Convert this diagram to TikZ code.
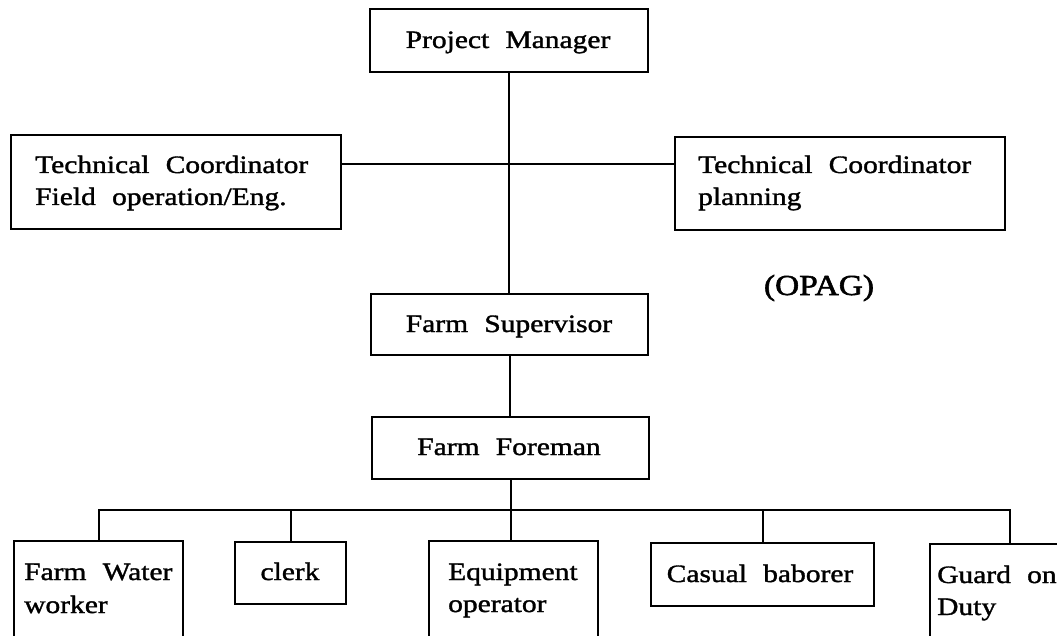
\documentclass[tikz,border=0pt]{standalone}
\usepackage{fontspec}
\setmainfont{Liberation Serif}[FakeStretch=1.18,WordSpace=2.2,FakeBold=1.4]
\newfontfamily\tagfont{Liberation Serif}[FakeStretch=1.15,FakeBold=2]
\begin{document}
\begin{tikzpicture}[x=1pt,y=-1pt,
  box/.style={draw, line width=2pt, rectangle, inner sep=0pt, anchor=north west},
  lbl/.style={inner sep=0pt, font=\fontsize{25}{30}\selectfont},
  link/.style={line width=2pt}]
\useasboundingbox (0,0) rectangle (1057,636);
\clip (0,0) rectangle (1057,636);

% management level
\node[box, minimum width=278pt, minimum height=63pt] (pm)  at (369,8)   {};
\node[box, minimum width=330pt, minimum height=94pt] (tcl) at (10,134)  {};
\node[box, minimum width=330pt, minimum height=93pt] (tcr) at (674,136) {};
\node[box, minimum width=277pt, minimum height=61pt] (fs)  at (370,293) {};
\node[box, minimum width=277pt, minimum height=62pt] (ff)  at (371,416) {};

% field staff
\node[box, minimum width=169pt, minimum height=120pt] (fw) at (13,540)  {};
\node[box, minimum width=111pt, minimum height=62pt]  (cl) at (234,541) {};
\node[box, minimum width=169pt, minimum height=120pt] (eq) at (428,540) {};
\node[box, minimum width=223pt, minimum height=63pt]  (cb) at (650,542) {};
\node[box, minimum width=160pt, minimum height=120pt] (gd) at (929,543) {};

% labels
\node[lbl, anchor=base] (pmt) at (508,48) {Project Manager};
\node[lbl, anchor=base west] (tclA) at (35,173) {Technical Coordinator};
\node[lbl, anchor=base west] (tclB) at (35,205) {Field operation/Eng.};
\node[lbl, anchor=base west] (tcrA) at (698,173) {Technical Coordinator};
\node[lbl, anchor=base west] (tcrB) at (698,205) {planning};
\node[lbl, anchor=base] (fst) at (509,332) {Farm Supervisor};
\node[lbl, anchor=base] (fft) at (509,455) {Farm Foreman};
\node[lbl, anchor=base west] (fwA) at (24,580) {Farm Water};
\node[lbl, anchor=base west] (fwB) at (24,613) {worker};
\node[lbl, anchor=base] (clt) at (290,580) {clerk};
\node[lbl, anchor=base west] (eqA) at (448,580) {Equipment};
\node[lbl, anchor=base west] (eqB) at (448,612) {operator};
\node[lbl, anchor=base] (cbt) at (760,582) {Casual baborer};
\node[lbl, anchor=base west] (gdA) at (937,583) {Guard on};
\node[lbl, anchor=base west] (gdB) at (937,615) {Duty};
\node[inner sep=0pt, anchor=base, font=\tagfont\fontsize{29}{34}\selectfont] (opag) at (819,295) {(OPAG)};

% connectors
\draw[link] (pm.south) -- (pm.south |- fs.north);
\coordinate (hbar) at ([yshift=-30pt]tcl.north east);
\draw[link] (hbar) -- (hbar -| tcr.west);
\draw[link] (fs.south) -- (fs.south |- ff.north);
\coordinate (bus) at (509,510);
\draw[link] (ff.south) -- (ff.south |- eq.north);
\draw[link] (fw.north) |- (bus) -| (gd.north);
\draw[link] (cl.north) -- (cl.north |- bus);
\draw[link] (cb.north) -- (cb.north |- bus);
\end{tikzpicture}
\end{document}
